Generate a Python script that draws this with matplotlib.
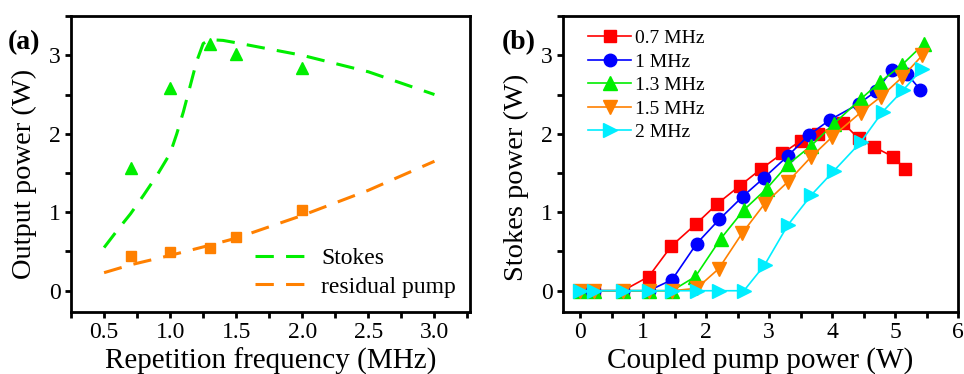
import matplotlib
matplotlib.use("Agg")
import matplotlib.pyplot as plt
from matplotlib.ticker import AutoMinorLocator, MultipleLocator

plt.rcParams['font.family'] = ['Liberation Serif', 'DejaVu Serif']

# --- Panel (a): output power vs repetition frequency ---
rep_freq      = [0.7, 1.0, 1.3, 1.5, 2.0]
stokes_meas   = [1.57, 2.58, 3.15, 3.02, 2.84]
residual_meas = [0.44, 0.49, 0.55, 0.68, 1.03]

fit_x_stokes  = [0.5, 0.6, 0.7, 0.8, 0.9, 1.0, 1.05, 1.1, 1.15, 1.2, 1.25, 1.3, 1.4, 1.5, 2.0, 2.5, 3.0]
fit_y_stokes  = [0.55, 0.77, 0.98, 1.22, 1.47, 1.75, 2.0, 2.28, 2.6, 2.92, 3.15, 3.2, 3.19, 3.16, 3.0, 2.79, 2.5]
fit_x_resid   = [0.5, 0.7, 1.0, 1.3, 1.5, 2.0, 2.5, 3.0]
fit_y_resid   = [0.23, 0.33, 0.45, 0.58, 0.67, 0.96, 1.28, 1.65]

# --- Panel (b): Stokes power vs coupled pump power ---
x_07 = [0, 0.23, 0.68, 1.09, 1.45, 1.84, 2.18, 2.54, 2.87, 3.21, 3.50, 3.78, 4.17, 4.42, 4.67, 4.96, 5.16]
y_07 = [0, 0, 0, 0.18, 0.57, 0.85, 1.11, 1.34, 1.55, 1.75, 1.91, 2.0, 2.14, 1.94, 1.83, 1.71, 1.55]
x_10 = [0, 0.23, 0.68, 1.09, 1.46, 1.85, 2.21, 2.58, 2.92, 3.30, 3.64, 3.97, 4.42, 4.69, 4.95, 5.19, 5.40]
y_10 = [0, 0, 0, 0, 0.14, 0.60, 0.91, 1.20, 1.44, 1.72, 1.99, 2.18, 2.38, 2.54, 2.81, 2.76, 2.56]
x_13 = [0, 0.23, 0.68, 1.09, 1.46, 1.83, 2.23, 2.60, 2.96, 3.30, 3.67, 4.03, 4.45, 4.76, 5.11, 5.46]
y_13 = [0, 0, 0, 0, 0, 0.18, 0.66, 1.03, 1.30, 1.61, 1.85, 2.13, 2.44, 2.66, 2.88, 3.15]
x_15 = [0, 0.23, 0.68, 1.09, 1.46, 1.85, 2.20, 2.57, 2.93, 3.30, 3.66, 4.00, 4.45, 4.77, 5.11, 5.43]
y_15 = [0, 0, 0, 0, 0, 0.03, 0.28, 0.73, 1.11, 1.39, 1.70, 1.96, 2.27, 2.47, 2.72, 3.0]
x_20 = [0, 0.23, 0.68, 1.09, 1.46, 1.85, 2.20, 2.60, 2.93, 3.30, 3.67, 4.03, 4.45, 4.80, 5.13, 5.43]
y_20 = [0, 0, 0, 0, 0, 0, 0, 0, 0.33, 0.84, 1.22, 1.53, 1.89, 2.28, 2.56, 2.83]

GREEN  = "#00ee00"
ORANGE = "#ff8000"


def style_axes(ax):
    for sp in ax.spines.values():
        sp.set_linewidth(2.0)
    ax.tick_params(which='both', direction='out', width=2.0, length=4, labelsize=17)
    ax.tick_params(top=False, right=False)
    ax.yaxis.set_major_locator(MultipleLocator(1))
    ax.yaxis.set_minor_locator(AutoMinorLocator(2))
    ax.xaxis.set_minor_locator(AutoMinorLocator(2))


fig = plt.figure(figsize=(9.64, 3.74), dpi=100)
ax1 = fig.add_axes([0.0737, 0.166, 0.414, 0.791])
ax2 = fig.add_axes([0.584, 0.166, 0.410, 0.791])

# Panel (a)
ax1.plot(fit_x_stokes, fit_y_stokes, color=GREEN, lw=2.2, dashes=(6, 4), label="Stokes")
ax1.plot(fit_x_resid, fit_y_resid, color=ORANGE, lw=2.2, dashes=(6, 4), label="residual pump")
ax1.plot(rep_freq, stokes_meas, ls='none', marker='^', ms=9, color=GREEN)
ax1.plot(rep_freq, residual_meas, ls='none', marker='s', ms=7.5, color=ORANGE)
ax1.set_xlim(0.25, 3.27)
ax1.set_ylim(-0.27, 3.5)
ax1.set_xticks([0.5, 1.0, 1.5, 2.0, 2.5, 3.0])
ax1.set_xticklabels(["0.5", "1.0", "1.5", "2.0", "2.5", "3.0"])
style_axes(ax1)
ax1.set_xlabel("Repetition frequency (MHz)", fontsize=21, labelpad=3)
ax1.set_ylabel("Output power (W)", fontsize=20.5)
ax1.yaxis.set_label_coords(-0.085, 0.465)
ax1.legend(loc='lower right', frameon=False, fontsize=17, handlelength=2.2,
           labelspacing=0.3, borderaxespad=0.2, handletextpad=0.6)

# Panel (b)
series = [
    (x_07, y_07, "red", 's', 8, "0.7 MHz"),
    (x_10, y_10, "blue", 'o', 9, "1 MHz"),
    (x_13, y_13, GREEN, '^', 9.5, "1.3 MHz"),
    (x_15, y_15, ORANGE, 'v', 9.5, "1.5 MHz"),
    (x_20, y_20, "#00eeff", '>', 9.5, "2 MHz"),
]
for xs, ys, c, m, ms, lab in series:
    ax2.plot(xs, ys, color=c, marker=m, ms=ms, lw=1.2, label=lab)
ax2.set_xlim(-0.27, 6.0)
ax2.set_ylim(-0.27, 3.5)
ax2.set_xticks([0, 1, 2, 3, 4, 5, 6])
style_axes(ax2)
ax2.set_xlabel("Coupled pump power (W)", fontsize=21, labelpad=3)
ax2.set_ylabel("Stokes power (W)", fontsize=20.5)
ax2.yaxis.set_label_coords(-0.085, 0.455)
ax2.legend(loc='upper left', frameon=False, fontsize=14, handlelength=2.2,
           labelspacing=0.3, borderaxespad=0.3, handletextpad=0.2,
           bbox_to_anchor=(0.03, 1.0))

fig.text(0.008, 0.868, "(a)", fontsize=20, fontweight='bold')
fig.text(0.520, 0.868, "(b)", fontsize=20, fontweight='bold')

fig.savefig("out.png", dpi=100)
